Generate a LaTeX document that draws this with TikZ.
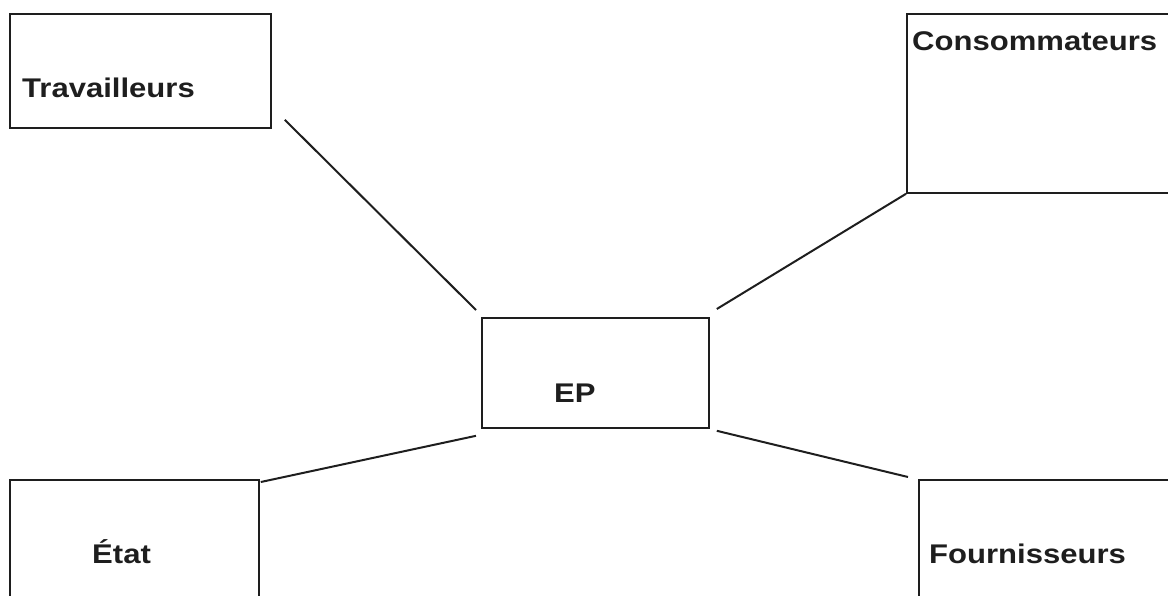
\documentclass[tikz,border=0pt]{standalone}
\usepackage{fontspec}
\newfontfamily\lblfont[FakeStretch=1.15]{Liberation Sans}
\usepackage{tikz}
\usetikzlibrary{calc}
\definecolor{inkgray}{RGB}{30,30,30}
\tikzset{
  bxS/.style n args={2}{draw=inkgray, line width=1.8pt, inner sep=0pt,
              anchor=north west, minimum width=#1, minimum height=#2},
  lbl/.style={anchor=base west, inner sep=0pt, text=inkgray,
              font=\lblfont\bfseries\fontsize{27}{32}\selectfont},
  link/.style={draw=inkgray, line width=2pt},
}

\begin{document}
\begin{tikzpicture}[x=1pt, y=-1pt]
    \useasboundingbox (0,0) rectangle (1168,595);

    % boxes (image pixel coordinates)
    \node[bxS={261pt}{114pt}] (trav) at (9,13)    {};
    \node[bxS={274pt}{179pt}] (cons) at (906,13)  {};
    \node[bxS={227pt}{110pt}] (ep)   at (481,317) {};
    \node[bxS={249pt}{131pt}] (etat) at (9,479)   {};
    \node[bxS={262pt}{131pt}] (four) at (918,479) {};

    \node[lbl] (travT) at (22,97)   {Travailleurs};
    \node[lbl] (consT) at (912,50)  {Consommateurs};
    \node[lbl] (epT)   at (554,402) {EP};
    \node[lbl] (etatT) at (92,563)  {État};
    \node[lbl] (fourT) at (929,563) {Fournisseurs};

    \draw[link] ($(trav.south east)+(13,-9)$) -- ($(ep.north west)+(-5,-7)$);
    \draw[link] (cons.south west) -- ($(ep.north east)+(7,-8)$);
    \draw[link] ($(etat.north east)+(1,3)$) -- ($(ep.south west)+(-5,7)$);
    \draw[link] ($(ep.south east)+(7,2)$) -- ($(four.north west)+(-10,-2)$);
  \end{tikzpicture}
\end{document}
